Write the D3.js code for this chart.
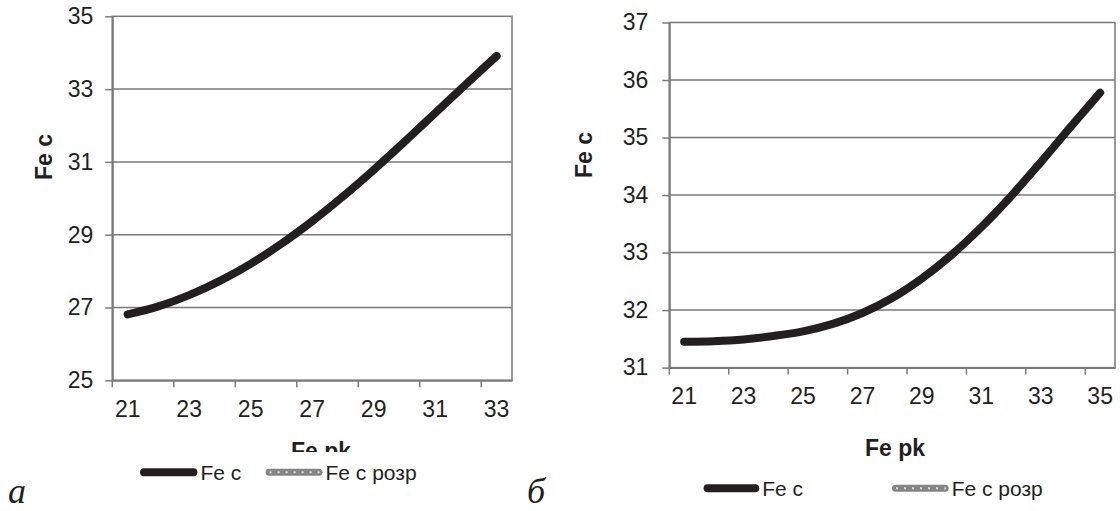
<!DOCTYPE html>
<html>
<head>
<meta charset="utf-8">
<script src="https://cdn.jsdelivr.net/npm/d3@7"></script>
<style>
  html, body { margin: 0; padding: 0; background: #fff; }
  svg { display: block; }
  text { font-family: "Liberation Sans", Arial, sans-serif; fill: #231f20; }
</style>
</head>
<body>
<svg id="chart" width="1120" height="511"></svg>
<script>
// ---- data ----
const catsA = [21, 22, 23, 24, 25, 26, 27, 28, 29, 30, 31, 32, 33];
const feA = [26.81, 27.03, 27.34, 27.73, 28.20, 28.75, 29.37, 30.05, 30.78, 31.55, 32.34, 33.13, 33.91];
const yTicksA = [25, 27, 29, 31, 33, 35];
const xLabelsA = [21, 23, 25, 27, 29, 31, 33];

const catsB = [21, 22, 23, 24, 25, 26, 27, 28, 29, 30, 31, 32, 33, 34, 35];
const feB = [31.45, 31.46, 31.49, 31.55, 31.63, 31.76, 31.95, 32.21, 32.55, 32.96, 33.44, 33.98, 34.57, 35.18, 35.78];
const yTicksB = [31, 32, 33, 34, 35, 36, 37];
const xLabelsB = [21, 23, 25, 27, 29, 31, 33, 35];

const seriesNames = ["Fe c", "Fe c розр"];
const xTitle = "Fe pk";
const yTitle = "Fe c";
const panelLabels = ["а", "б"];

// ---- drawing ----
const svg = d3.select("#chart");
const INK = "#231f20";
const GRID = "#7a7a7a";
const FONT = '"Liberation Sans", Arial, sans-serif';

function drawPanel(cfg) {
  const g = svg.append("g");
  const x = d3.scaleBand().domain(cfg.cats).range([cfg.left, cfg.right]).paddingInner(0).paddingOuter(0);
  const y = d3.scaleLinear().domain(cfg.yDomain).range([cfg.bottom, cfg.top]);

  // gridlines
  g.append("g").selectAll("line")
    .data(cfg.yTicks.filter(v => v !== cfg.yDomain[0] && v !== cfg.yDomain[1]))
    .join("line")
    .attr("x1", cfg.left).attr("x2", cfg.right)
    .attr("y1", d => y(d)).attr("y2", d => y(d))
    .attr("stroke", GRID).attr("stroke-width", 1.5);

  // plot frame
  g.append("rect")
    .attr("x", cfg.left).attr("y", cfg.top)
    .attr("width", cfg.right - cfg.left).attr("height", cfg.bottom - cfg.top)
    .attr("fill", "none").attr("stroke", GRID).attr("stroke-width", 1.5);

  // y axis
  const ya = g.append("g").attr("transform", `translate(${cfg.left},0)`)
    .call(d3.axisLeft(y).tickValues(cfg.yTicks).tickFormat(d3.format("d"))
      .tickSize(7).tickPadding(cfg.yPad).tickSizeOuter(0));
  ya.select(".domain").attr("stroke", GRID).attr("stroke-width", 2);
  ya.selectAll(".tick line").attr("stroke", GRID).attr("stroke-width", 1.5);
  ya.selectAll(".tick text").attr("font-size", 23).attr("fill", INK).style("font-family", FONT);

  // x axis labels (centered in categories)
  const xa = g.append("g").attr("transform", `translate(0,${cfg.bottom})`)
    .call(d3.axisBottom(x).tickValues(cfg.xLabels).tickFormat(d3.format("d"))
      .tickSize(0).tickPadding(20).tickSizeOuter(0));
  xa.select(".domain").attr("stroke", GRID).attr("stroke-width", 2);
  xa.selectAll(".tick text").attr("font-size", 23).attr("fill", INK).style("font-family", FONT);
  // x tick marks at category boundaries
  g.append("g").selectAll("line")
    .data(cfg.xLabels)
    .join("line")
    .attr("x1", d => x(d)).attr("x2", d => x(d))
    .attr("y1", cfg.bottom).attr("y2", cfg.bottom + 7)
    .attr("stroke", GRID).attr("stroke-width", 1.5);

  // curve
  const line = d3.line()
    .x((d, i) => x(cfg.cats[i]) + x.bandwidth() / 2)
    .y(d => y(d))
    .curve(d3.curveCatmullRom.alpha(0.5));
  g.append("path").datum(cfg.values)
    .attr("d", line)
    .attr("fill", "none").attr("stroke", INK)
    .attr("stroke-width", 8).attr("stroke-linecap", "round").attr("stroke-linejoin", "round");

  // y title
  g.append("text")
    .attr("transform", `translate(${cfg.yTitleX},${cfg.yTitleY}) rotate(-90)`)
    .attr("text-anchor", "middle")
    .attr("font-size", 23).attr("font-weight", "bold")
    .text(yTitle);

  // x title (optionally clipped by legend box)
  const xt = g.append("text")
    .attr("x", cfg.xTitleX).attr("y", cfg.xTitleY)
    .attr("text-anchor", "middle")
    .attr("font-size", 23).attr("font-weight", "bold")
    .text(xTitle);
  if (cfg.clipTitleAt) {
    const id = "clip" + cfg.left.toFixed(0);
    svg.append("clipPath").attr("id", id).append("rect")
      .attr("x", 0).attr("y", 0).attr("width", 1120).attr("height", cfg.clipTitleAt);
    xt.attr("clip-path", `url(#${id})`);
  }

  // legend
  const lg = g.append("g");
  lg.append("line")
    .attr("x1", cfg.leg1[0] + 4).attr("x2", cfg.leg1[1] - 4)
    .attr("y1", cfg.legY).attr("y2", cfg.legY)
    .attr("stroke", INK).attr("stroke-width", 8).attr("stroke-linecap", "round");
  lg.append("text").attr("x", cfg.leg1[1] + 3).attr("y", cfg.legY + 7.5)
    .attr("font-size", 21).text(seriesNames[0]);
  lg.append("line")
    .attr("x1", cfg.leg2[0] + 3.5).attr("x2", cfg.leg2[1] - 3.5)
    .attr("y1", cfg.legY).attr("y2", cfg.legY)
    .attr("stroke", "#858585").attr("stroke-width", 7).attr("stroke-linecap", "round");
  lg.append("line")
    .attr("x1", cfg.leg2[0] + 4).attr("x2", cfg.leg2[1] - 3)
    .attr("y1", cfg.legY).attr("y2", cfg.legY)
    .attr("stroke", "#dcdcdc").attr("stroke-width", 2)
    .attr("stroke-dasharray", "2 6");
  lg.append("text").attr("x", cfg.leg2[1] + 3).attr("y", cfg.legY + 7.5)
    .attr("font-size", 21).text(seriesNames[1]);

  // panel label
  svg.append("text")
    .attr("x", cfg.panelX).attr("y", cfg.panelY)
    .attr("font-size", 36).attr("font-style", "italic")
    .style("font-family", '"Liberation Serif", "Times New Roman", serif')
    .text(cfg.panelLabel);
}

drawPanel({
  cats: catsA, values: feA, yTicks: yTicksA, xLabels: xLabelsA,
  yDomain: [25, 35],
  left: 112.3, right: 512, top: 16.3, bottom: 380.3,
  yPad: 12,
  yTitleX: 52, yTitleY: 157,
  xTitleX: 321, xTitleY: 459, clipTitleAt: 452,
  legY: 472.3, leg1: [140, 197.4], leg2: [265.6, 322.5],
  panelX: 8, panelY: 503, panelLabel: panelLabels[0]
});

drawPanel({
  cats: catsB, values: feB, yTicks: yTicksB, xLabels: xLabelsB,
  yDomain: [31, 37],
  left: 669.3, right: 1115, top: 22.5, bottom: 367.6,
  yPad: 14,
  yTitleX: 592, yTitleY: 155,
  xTitleX: 895, xTitleY: 456, clipTitleAt: null,
  legY: 488.3, leg1: [703.6, 759.2], leg2: [892, 948.7],
  panelX: 527, panelY: 503, panelLabel: panelLabels[1]
});
</script>
</body>
</html>
